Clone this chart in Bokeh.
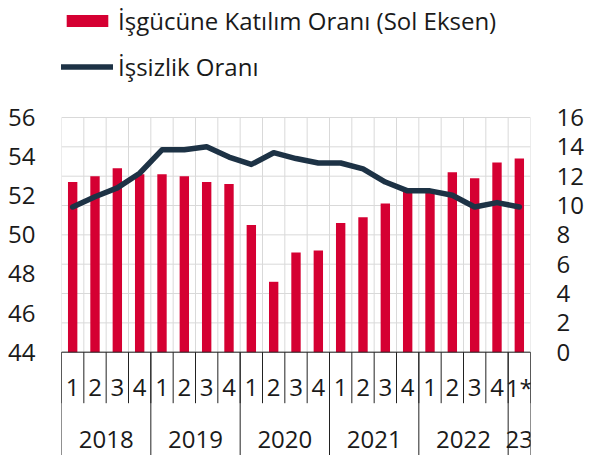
from bokeh.plotting import figure
from bokeh.models import Range1d, LinearAxis, FixedTicker, Legend, LegendItem, ColumnDataSource
from bokeh.embed import file_html
from bokeh.resources import INLINE
from bokeh.core.properties import value

# ---- data ----
quarter_labels = ["1", "2", "3", "4"] * 5 + ["1*"]
year_labels = ["2018", "2019", "2020", "2021", "2022", "23"]
year_sizes = [4, 4, 4, 4, 4, 1]
participation = [52.7, 53.0, 53.4, 53.1,
                 53.1, 53.0, 52.7, 52.6,
                 50.5, 47.6, 49.1, 49.2,
                 50.6, 50.9, 51.6, 52.2,
                 52.3, 53.2, 52.9, 53.7,
                 53.9]
unemployment = [9.9, 10.6, 11.2, 12.2,
                13.8, 13.8, 14.0, 13.3,
                12.8, 13.6, 13.2, 12.9,
                12.9, 12.5, 11.6, 11.0,
                11.0, 10.7, 9.9, 10.2,
                9.9]
left_ticks = [44, 46, 48, 50, 52, 54, 56]
right_ticks = [0, 2, 4, 6, 8, 10, 12, 14, 16]
bar_label = "İşgücüne Katılım Oranı (Sol Eksen)"
line_label = "İşsizlik Oranı"

# ---- layout constants ----
W, H = 589, 455
TOP_PX, BASE_PX = 117.0, 351.7          # canvas y of 56 and 44
L_MIN, L_MAX = left_ticks[0], left_ticks[-1]
R_MIN, R_MAX = right_ticks[0], right_ticks[-1]
scale = (BASE_PX - TOP_PX) / (L_MAX - L_MIN)
y_hi = L_MAX + TOP_PX / scale
y_lo = L_MIN - (H - BASE_PX) / scale
ratio = (L_MAX - L_MIN) / (R_MAX - R_MIN)
def to_right(v):
    return R_MIN + (v - L_MIN) / ratio
def px_below(px):
    return L_MIN - px / scale

FONT = "Open Sans"
FS = "24px"
TXT = "#1a1a1a"
RED = "#d50032"
NAVY = "#1d3245"
GRID = "#d9d9d9"
AX = "#222222"

n = len(participation)
xs = list(range(n))

p = figure(width=W, height=H, x_range=Range1d(-0.5, n - 0.5), y_range=Range1d(y_lo, y_hi),
           output_backend="svg", toolbar_location=None,
           x_axis_location=None, y_axis_location=None,
           min_border_left=61, min_border_right=59, min_border_top=0, min_border_bottom=0)
p.extra_y_ranges = {"right": Range1d(to_right(y_lo), to_right(y_hi))}
p.outline_line_color = None
p.xgrid.visible = False
p.ygrid.visible = False

# axes
def style_axis(ax):
    ax.axis_line_color = None
    ax.major_tick_line_color = None
    ax.minor_tick_line_color = None
    ax.major_tick_out = 0
    ax.major_tick_in = 0
    ax.minor_tick_out = 0
    ax.major_label_text_font = FONT
    ax.major_label_text_font_size = FS
    ax.major_label_text_color = TXT
    ax.major_label_standoff = 26

la = LinearAxis(ticker=FixedTicker(ticks=left_ticks), bounds=(L_MIN, L_MAX))
style_axis(la)
p.add_layout(la, "left")
ra = LinearAxis(ticker=FixedTicker(ticks=right_ticks), bounds=(R_MIN, R_MAX), y_range_name="right")
style_axis(ra)
p.add_layout(ra, "right")

# grid lines (horizontal ones follow the right axis ticks)
hy = [L_MIN + (t - R_MIN) * ratio for t in right_ticks]
p.segment(x0=[-0.5] * len(hy), x1=[n - 0.5] * len(hy), y0=hy, y1=hy, line_color=GRID, line_width=1)
bx = [i - 0.5 for i in range(n + 1)]
p.segment(x0=bx, x1=bx, y0=[L_MIN] * len(bx), y1=[L_MAX] * len(bx), line_color=GRID, line_width=1)

# bars and line
src = ColumnDataSource(dict(x=xs, part=participation, unemp=unemployment))
bars = p.vbar(x="x", top="part", bottom=L_MIN, width=0.42, source=src, fill_color=RED, line_color=None)
line = p.line(x="x", y="unemp", source=src, line_color=NAVY, line_width=5.5,
              line_join="round", line_cap="round", y_range_name="right")

# category axis drawn below the baseline
p.segment(x0=[-0.5], x1=[n - 0.5], y0=[L_MIN], y1=[L_MIN], line_color=AX, line_width=1)
q_bottom = px_below(51)
p.segment(x0=bx, x1=bx, y0=[L_MIN] * len(bx), y1=[q_bottom] * len(bx), line_color=AX, line_width=1)
yb = [-0.5]
for s in year_sizes:
    yb.append(yb[-1] + s)
p.segment(x0=yb, x1=yb, y0=[L_MIN] * len(yb), y1=[y_lo] * len(yb), line_color=AX, line_width=1)
p.text(x=xs, y=[px_below(35)] * n, text=quarter_labels, text_font=value(FONT), text_font_size=value(FS),
       text_color=TXT, text_align="center", text_baseline="middle")
ycx = [(yb[i] + yb[i + 1]) / 2 for i in range(len(year_sizes))]
p.text(x=ycx, y=[px_below(87)] * len(ycx), text=year_labels, text_font=value(FONT), text_font_size=value(FS),
       text_color=TXT, text_align="center", text_baseline="middle")

legend = Legend(items=[LegendItem(label=bar_label, renderers=[bars]),
                       LegendItem(label=line_label, renderers=[line])],
                location="top_left", orientation="vertical",
                glyph_width=52, glyph_height=15, label_standoff=5,
                label_text_font=FONT, label_text_font_size=FS, label_text_color=TXT,
                label_height=41, spacing=5, padding=0, margin=0,
                border_line_color=None, background_fill_alpha=0)
p.add_layout(legend)

open("out.html", "w").write(file_html(p, INLINE))
